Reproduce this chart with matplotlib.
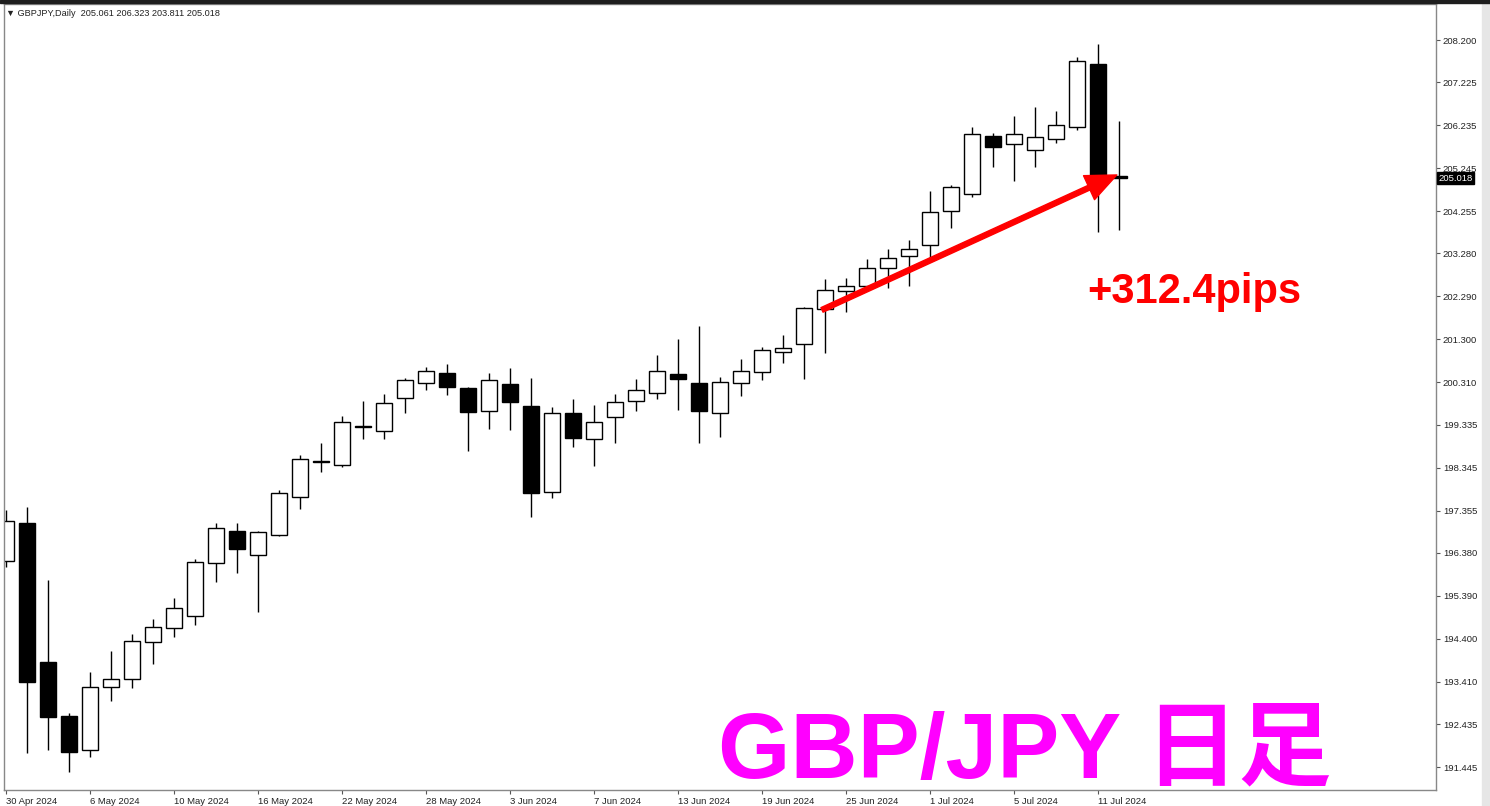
import matplotlib
matplotlib.use("Agg")
import matplotlib.pyplot as plt
import matplotlib.transforms as mtransforms
from matplotlib.patches import Rectangle
import numpy as np

# daily GBPJPY candles, 30 Apr 2024 .. 12 Jul 2024
opens = [196.19, 197.06, 193.87, 192.62, 191.84, 193.30, 193.47, 194.32, 194.66, 194.93,
         196.14, 196.89, 196.33, 196.79, 197.66, 198.50, 198.41, 199.30, 199.20, 199.94,
         200.29, 200.52, 200.17, 199.65, 200.27, 199.77, 197.79, 199.60, 199.00, 199.52,
         199.89, 200.06, 200.50, 200.29, 199.60, 200.29, 200.56, 201.00, 201.19, 201.99,
         202.42, 202.53, 202.94, 203.22, 203.48, 204.27, 204.66, 205.99, 205.80, 205.67,
         205.93, 206.19, 207.64, 205.061]
highs = [197.37, 197.43, 195.75, 192.69, 193.64, 194.13, 194.51, 194.85, 195.33, 196.25,
         197.06, 197.08, 196.89, 197.84, 198.64, 198.91, 199.53, 199.88, 200.04, 200.40,
         200.66, 200.73, 200.21, 200.52, 200.65, 200.40, 199.75, 199.92, 199.79, 200.04,
         200.38, 200.94, 201.31, 201.61, 200.44, 200.84, 201.12, 201.39, 202.05, 202.69,
         202.72, 203.15, 203.38, 203.59, 204.72, 204.86, 206.20, 206.06, 206.45, 206.65,
         206.57, 207.80, 208.11, 206.323]
lows = [196.06, 191.76, 191.84, 191.34, 191.67, 192.97, 193.26, 193.81, 194.45, 194.72,
        195.70, 195.91, 195.01, 196.77, 197.38, 198.25, 198.35, 199.00, 199.00, 199.60,
        200.13, 200.03, 198.73, 199.23, 199.21, 197.20, 197.64, 198.81, 198.38, 198.92,
        199.66, 199.92, 199.67, 198.91, 199.04, 199.99, 200.36, 200.76, 200.38, 200.98,
        201.94, 202.44, 202.49, 202.54, 203.17, 203.86, 204.59, 205.28, 204.96, 205.28,
        205.83, 206.13, 203.78, 203.811]
closes = [197.12, 193.41, 192.60, 191.80, 193.28, 193.47, 194.36, 194.68, 195.10, 196.18,
          196.95, 196.46, 196.87, 197.75, 198.54, 198.48, 199.40, 199.29, 199.84, 200.36,
          200.58, 200.21, 199.62, 200.36, 199.85, 197.75, 199.61, 199.03, 199.40, 199.86,
          200.13, 200.57, 200.38, 199.66, 200.32, 200.57, 201.06, 201.11, 202.02, 202.45,
          202.54, 202.94, 203.18, 203.38, 204.23, 204.81, 206.03, 205.73, 206.03, 205.96,
          206.24, 207.72, 205.06, 205.018]

date_labels = ["30 Apr 2024", "6 May 2024", "10 May 2024", "16 May 2024", "22 May 2024",
               "28 May 2024", "3 Jun 2024", "7 Jun 2024", "13 Jun 2024", "19 Jun 2024",
               "25 Jun 2024", "1 Jul 2024", "5 Jul 2024", "11 Jul 2024"]
price_ticks = [208.200, 207.225, 206.235, 205.245, 204.255, 203.280, 202.290, 201.300,
               200.310, 199.335, 198.345, 197.355, 196.380, 195.390, 194.400, 193.410,
               192.435, 191.445]
last_price = 205.018
header = "GBPJPY,Daily  205.061 206.323 203.811 205.018"
move_label = "+312.4pips"
title = "GBP/JPY 日足"

W, H = 1490, 806
fig = plt.figure(figsize=(W / 100, H / 100), dpi=100)
fig.patch.set_facecolor("white")
ax = fig.add_axes([4 / W, 16 / H, 1432 / W, 786 / H])

x = np.arange(len(opens))
o = np.array(opens); c = np.array(closes)
up = c >= o
lo = np.minimum(o, c)
hi = np.maximum(o, c)
body = np.maximum(hi - lo, 0.01)

ax.vlines(x, lows, highs, color="black", lw=1, zorder=1)
ax.bar(x, body, bottom=lo, width=0.76,
       color=np.where(up, "white", "black"), edgecolor="black", lw=1, zorder=2)

ax.set_xlim(-0.095, 68.1)
ax.set_ylim(190.915, 209.03)

ax.set_xticks(x[::4])
ax.set_xticklabels(date_labels, ha="left", fontsize=6.8, family="Liberation Sans",
                   color="#222222")
ax.tick_params(axis="x", direction="out", length=3, width=0.8, pad=2, color="#555555")
ax.yaxis.tick_right()
ax.set_yticks(price_ticks)
ax.set_yticklabels([f"{p:.3f}" for p in price_ticks], fontsize=6.8,
                   family="Liberation Sans", color="#222222")
ax.tick_params(axis="y", direction="out", length=3, width=0.8, pad=2, color="#555555")
for sp in ax.spines.values():
    sp.set_color("#888888")
    sp.set_linewidth(1)

# current price marker on the price scale
trans = mtransforms.blended_transform_factory(ax.transAxes, ax.transData)
ax.text(1.0015, last_price, f"{last_price:.3f}", transform=trans, ha="left", va="center",
        fontsize=6.8, family="Liberation Sans", color="white", clip_on=False, zorder=5,
        bbox=dict(boxstyle="square,pad=0.15", fc="black", ec="black"))

ax.text(0.0015, 0.9885, "\u25bc " + header, transform=ax.transAxes, ha="left", va="center",
        fontsize=6.6, family=["Liberation Sans", "DejaVu Sans"], color="#222222")

# red arrow and pips text
ax.annotate("", xy=(52.9, 205.09), xytext=(38.86, 201.98),
            arrowprops=dict(facecolor="red", edgecolor="red", width=3.6,
                            headwidth=19, headlength=22, shrink=0), zorder=6)
ax.text(51.48, 202.14, move_label, color="red", fontsize=30, fontweight="bold",
        family="Liberation Sans", ha="left", va="baseline", zorder=6)

fig.text(718 / W, 1 - 777 / H, title, color="#ff00ff", fontsize=67, fontweight="bold",
         family=["Liberation Sans", "Noto Sans CJK JP"], ha="left", va="baseline")

# window chrome
fig.patches.append(Rectangle((0, 1 - 3 / H), 1, 3 / H, transform=fig.transFigure,
                             color="#1e1e1e", zorder=10))
fig.patches.append(Rectangle((1 - 8 / W, 0), 8 / W, 1, transform=fig.transFigure,
                             color="#e6e6e6", zorder=0))

fig.savefig("out.png", dpi=100)
